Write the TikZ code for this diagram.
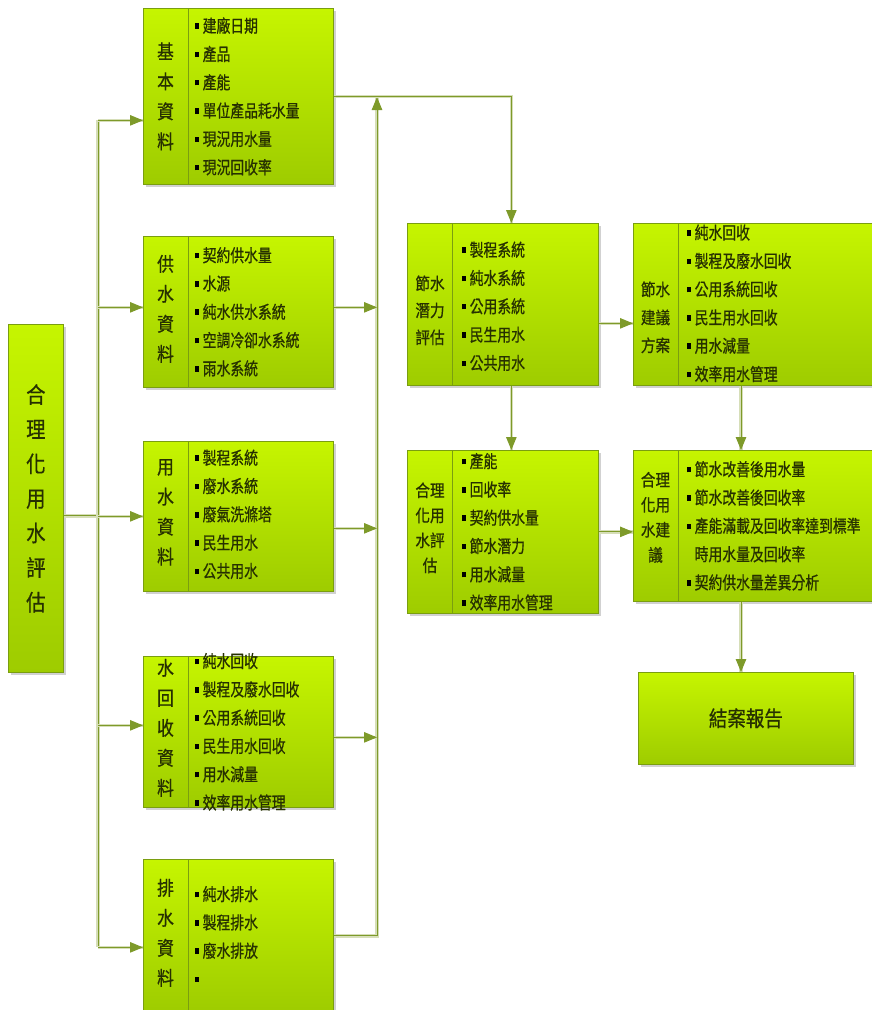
\documentclass[tikz,border=0pt]{standalone}
\usepackage{fontspec}
\newfontfamily\cjk[FakeStretch=0.86,FakeBold=0.7]{Noto Sans CJK TC}
\newfontfamily\cjkitem[FakeStretch=0.79,FakeBold=0.7]{Noto Sans CJK TC}
\usetikzlibrary{arrows.meta,shadows}
\definecolor{boxtop}{HTML}{C6F500}
\definecolor{boxbot}{HTML}{9ECC00}
\definecolor{boxline}{HTML}{7A9E10}
\definecolor{conn}{HTML}{7E9A2A}
\definecolor{connlight}{HTML}{D6DEB8}
\definecolor{txt}{HTML}{263000}
\newcommand\myitemfont{\cjkitem\fontsize{17.5}{28.3}\selectfont}
\newcommand\mybul{\textcolor{black}{\rule[3.5pt]{3.5pt}{5.5pt}}\hspace{4pt}}
\tikzset{
 box/.style={rectangle, anchor=north west, draw=boxline, line width=0.7pt,
   top color=boxtop, bottom color=boxbot, inner sep=0pt,
   drop shadow={shadow xshift=2.5pt, shadow yshift=-2.5pt, opacity=0.3, fill=black!60}},
 divider/.style={draw=boxline, line width=0.7pt},
 lab/.style={align=center, inner sep=0pt, text=txt},
 items/.style={align=left, anchor=west, inner sep=0pt, text=txt, font=\myitemfont},
 conn/.style={draw=conn, line width=1pt, preaction={draw=connlight, line width=3.4pt, -}},
 arr/.style={-{Triangle[length=13pt,width=10.5pt]}},
}
\begin{document}
\begin{tikzpicture}[x=1pt,y=-1pt]
\useasboundingbox (0,0) rectangle (871,1010);
% boxes
\node[box, minimum width=55pt, minimum height=348pt] (main) at (8,324) {};
\node[box, minimum width=190pt, minimum height=176pt] (b1) at (143,8) {};
\node[box, minimum width=190pt, minimum height=151pt] (b2) at (143,236) {};
\node[box, minimum width=190pt, minimum height=150pt] (b3) at (143,441) {};
\node[box, minimum width=190pt, minimum height=151pt] (b4) at (143,656) {};
\node[box, minimum width=190pt, minimum height=153pt] (b5) at (143,859) {};
\node[box, minimum width=191pt, minimum height=162pt] (m1) at (407,223) {};
\node[box, minimum width=191pt, minimum height=163pt] (m2) at (407,450) {};
\node[box, minimum width=240pt, minimum height=162pt] (r1) at (633,223) {};
\node[box, minimum width=240pt, minimum height=151pt] (r2) at (633,450) {};
\node[box, minimum width=215pt, minimum height=92pt] (r3) at (638,672) {};
% dividers
\foreach \b in {b1,b2,b3,b4,b5,m1,m2,r1,r2}
  \draw[divider] ([xshift=45pt]\b.north west) -- ([xshift=45pt]\b.south west);
% main label
\node[lab, font=\cjk\fontsize{22.5}{34.6}\selectfont] (mainl) at (main.center) {合\\理\\化\\用\\水\\評\\估};
% column 1 labels
\node[lab, font=\cjk\fontsize{19.5}{30}\selectfont] (b1l) at ([xshift=22.5pt]b1.west) {基\\本\\資\\料};
\node[lab, font=\cjk\fontsize{19.5}{30}\selectfont] (b2l) at ([xshift=22.5pt,yshift=3pt]b2.west) {供\\水\\資\\料};
\node[lab, font=\cjk\fontsize{19.5}{30}\selectfont] (b3l) at ([xshift=22.5pt,yshift=4pt]b3.west) {用\\水\\資\\料};
\node[lab, font=\cjk\fontsize{19.5}{30}\selectfont] (b4l) at ([xshift=22.5pt,yshift=4pt]b4.west) {水\\回\\收\\資\\料};
\node[lab, font=\cjk\fontsize{19.5}{30}\selectfont] (b5l) at ([xshift=22.5pt,yshift=3pt]b5.west) {排\\水\\資\\料};
% column 1 items
\node[items] (b1i) at ([xshift=52pt]b1.west) {\mybul 建廠日期\\\mybul 產品\\\mybul 產能\\\mybul 單位產品耗水量\\\mybul 現況用水量\\\mybul 現況回收率};
\node[items] (b2i) at ([xshift=52pt]b2.west) {\mybul 契約供水量\\\mybul 水源\\\mybul 純水供水系統\\\mybul 空調冷卻水系統\\\mybul 雨水系統};
\node[items] (b3i) at ([xshift=52pt,yshift=2pt]b3.west) {\mybul 製程系統\\\mybul 廢水系統\\\mybul 廢氣洗滌塔\\\mybul 民生用水\\\mybul 公共用水};
\node[items] (b4i) at ([xshift=52pt]b4.west) {\mybul 純水回收\\\mybul 製程及廢水回收\\\mybul 公用系統回收\\\mybul 民生用水回收\\\mybul 用水減量\\\mybul 效率用水管理};
\node[items] (b5i) at ([xshift=52pt]b5.west) {\mybul 純水排水\\\mybul 製程排水\\\mybul 廢水排放\\\mybul};
% middle and right labels
\node[lab, font=\cjk\fontsize{17}{27}\selectfont] (m1l) at ([xshift=23pt,yshift=-6pt]m1.west) {節水\\潛力\\評估};
\node[lab, font=\cjk\fontsize{17}{25}\selectfont] (m2l) at ([xshift=23pt,yshift=4pt]m2.west) {合理\\化用\\水評\\估};
\node[lab, font=\cjk\fontsize{17}{28}\selectfont] (r1l) at ([xshift=22.5pt,yshift=-13pt]r1.west) {節水\\建議\\方案};
\node[lab, font=\cjk\fontsize{17}{25}\selectfont] (r2l) at ([xshift=22.5pt,yshift=8.5pt]r2.west) {合理\\化用\\水建\\議};
% middle and right items
\node[items] (m1i) at ([xshift=55pt,yshift=-2pt]m1.west) {\mybul 製程系統\\\mybul 純水系統\\\mybul 公用系統\\\mybul 民生用水\\\mybul 公共用水};
\node[items] (m2i) at ([xshift=55pt]m2.west) {\mybul 產能\\\mybul 回收率\\\mybul 契約供水量\\\mybul 節水潛力\\\mybul 用水減量\\\mybul 效率用水管理};
\node[items] (r1i) at ([xshift=54pt,yshift=1pt]r1.west) {\mybul 純水回收\\\mybul 製程及廢水回收\\\mybul 公用系統回收\\\mybul 民生用水回收\\\mybul 用水減量\\\mybul 效率用水管理};
\node[items] (r2i) at ([xshift=54pt]r2.west) {\mybul 節水改善後用水量\\\mybul 節水改善後回收率\\\mybul 產能滿載及回收率達到標準\\\hphantom{\mybul}時用水量及回收率\\\mybul 契約供水量差異分析};
\node[lab, font=\cjk\fontsize{21.5}{24}\selectfont] (r3l) at (r3.center) {結案報告};
% connector coordinates
\coordinate (trunkL) at (98,0);
\coordinate (trunkR) at (377,97);
\coordinate (colR) at (741,0);
\path ([yshift=-17.5pt]main.east) coordinate (mo);
\path ([yshift=-24pt]b1.west) coordinate (b1in);
\path ([yshift=4.5pt]b2.west) coordinate (b2in);
\path (b3.west) coordinate (b3in);
\path ([yshift=6.5pt]b4.west) coordinate (b4in);
\path ([yshift=-11.5pt]b5.west) coordinate (b5in);
\path ([yshift=4.5pt]b2.east) coordinate (b2out);
\path ([yshift=-12pt]b3.east) coordinate (b3out);
\path ([yshift=-5.5pt]b4.east) coordinate (b4out);
% left trunk
\draw[conn] (mo) -- (mo -| trunkL);
\draw[conn] (trunkL |- b1in) -- (trunkL |- b5in);
\foreach \i in {1,...,5}
  \draw[conn,arr] (trunkL |- b\i in) -- (b\i in);
% right trunk
\draw[conn,arr] (b5.east) -| (trunkR);
\foreach \i in {2,3,4}
  \draw[conn,arr] (b\i out) -- (b\i out -| trunkR);
\draw[conn,arr] (b1.east) -| ([xshift=8.5pt]m1.north);
% middle and right
\draw[conn,arr] ([yshift=-19pt]m1.east) -- ([yshift=-19pt]m1.east -| r1.west);
\draw[conn,arr] ([xshift=8.5pt]m1.south) -- ([xshift=8.5pt]m2.north);
\draw[conn,arr] (m2.east) -- (m2.east -| r2.west);
\draw[conn,arr] (r1.south -| colR) -- (r2.north -| colR);
\draw[conn,arr] (r2.south -| colR) -- (r3.north -| colR);
\end{tikzpicture}
\end{document}
